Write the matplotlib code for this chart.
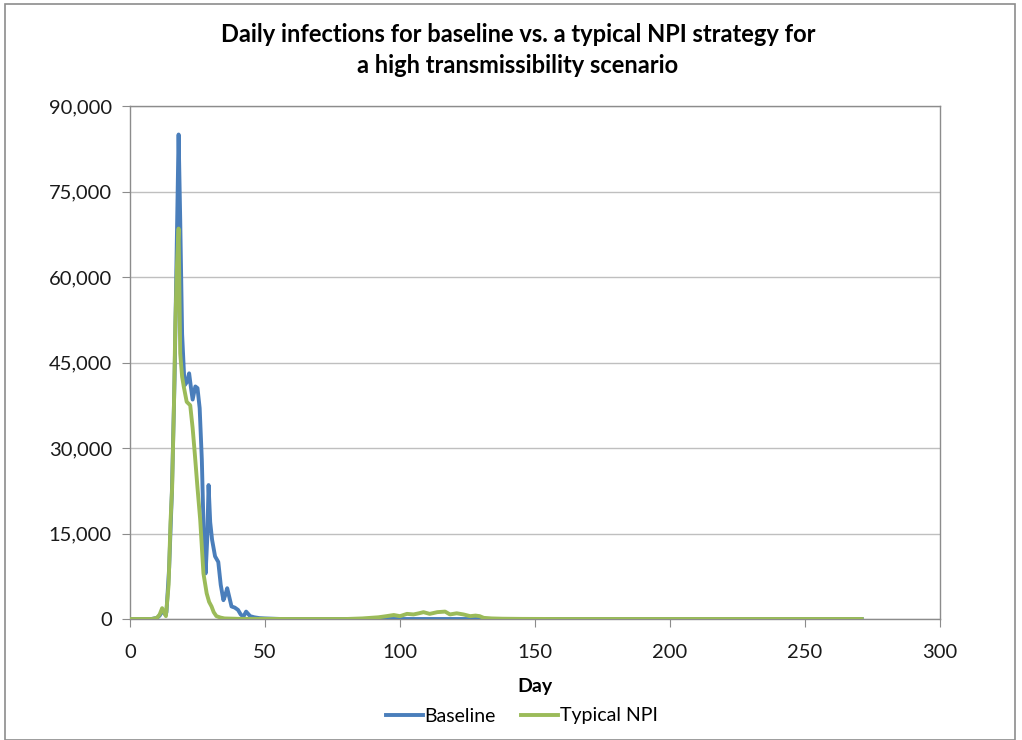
import matplotlib
matplotlib.use("Agg")
import matplotlib.pyplot as plt
from matplotlib.ticker import FuncFormatter, MultipleLocator
from matplotlib.patches import Rectangle

plt.rcParams['font.family'] = ['Lato', 'DejaVu Sans']

title = "Daily infections for baseline vs. a typical NPI strategy for\na high transmissibility scenario"
x_label = "Day"
series_names = ["Baseline", "Typical NPI"]

baseline_days = [0, 8, 10, 11, 12, 12.8, 13.5, 14.5, 15.5, 16.5, 17.3, 18, 18.6, 19.3, 20.2, 21, 21.9,
                 22.6, 23.2, 24.2, 25, 25.8, 26.6, 27.3, 28, 28.6, 29.1, 29.7, 30.4, 31.5, 32.7, 33.6,
                 34.6, 35.3, 36, 36.8, 37.6, 38.8, 40, 41, 42, 43, 44.5, 46, 48, 50, 53, 56, 60, 271]
baseline_vals = [0, 0, 200, 600, 1500, 900, 1200, 9000, 22000, 42000, 65000, 85000, 70000, 50000, 41000, 41500, 43100,
                 40500, 38500, 40800, 40500, 37000, 28000, 15000, 8000, 14000, 23500, 17000, 13900, 11000, 10000, 6000,
                 3300, 4200, 5400, 3800, 2200, 2000, 1600, 800, 400, 1300, 500, 300, 150, 100, 50, 0, 0, 0]

npi_days = [0, 8, 10, 11, 11.9, 12.6, 13.3, 14.3, 15, 15.6, 16.3, 16.8, 17.4, 18, 18.6, 19.3, 19.9, 21,
            22.3, 23.2, 24, 25, 26, 27.2, 28.4, 29.3, 30.2, 31, 32, 33.5, 35, 40, 60, 80, 86, 89,
            92, 95, 97.7, 100, 102.6, 105, 107, 108.7, 111, 113.8, 116.7, 118.5, 121, 123.5, 126,
            128, 129.5, 131, 134, 138, 145, 160, 200, 271]
npi_vals = [0, 0, 200, 800, 1900, 1200, 500, 6000, 17000, 23000, 38000, 52000, 62000, 68500, 46600, 42500, 40800, 38100,
            37500, 33500, 29000, 23000, 17400, 8000, 4500, 3000, 2200, 1200, 500, 250, 100, 30, 0, 0, 100, 200,
            300, 500, 700, 500, 900, 800, 1000, 1200, 900, 1200, 1300, 800, 1000, 800, 500,
            600, 500, 200, 100, 50, 20, 0, 0, 0]

W, H = 1022, 740
fig = plt.figure(figsize=(W / 100, H / 100), dpi=100)
fig.patch.set_facecolor('white')
# outer chart border
fig.patches.append(Rectangle((5 / W, 0), 1010 / W, 1 - 4 / H, transform=fig.transFigure,
                             fill=False, edgecolor='#8c8c8c', linewidth=1.2))

left, right, top, bottom = 130, 940, 106, 619
ax = fig.add_axes([left / W, 1 - bottom / H, (right - left) / W, (bottom - top) / H])

blue = '#4a7ebb'
green = '#9bbb59'
ax.plot(baseline_days, baseline_vals, color=blue, linewidth=2.8, label=series_names[0], zorder=3,
        solid_joinstyle='round')
ax.plot(npi_days, npi_vals, color=green, linewidth=2.8, label=series_names[1], zorder=4,
        solid_joinstyle='round')

ax.set_xlim(0, 300)
ax.set_ylim(0, 90000)
ax.xaxis.set_major_locator(MultipleLocator(50))
ax.yaxis.set_major_locator(MultipleLocator(15000))
ax.yaxis.set_major_formatter(FuncFormatter(lambda v, p: f"{int(v):,}"))
ax.grid(axis='y', color='#bfbfbf', linewidth=1.0)
ax.set_axisbelow(True)
for s in ax.spines.values():
    s.set_color('#8c8c8c')
    s.set_linewidth(1.0)
ax.tick_params(axis='both', direction='out', length=6, color='#8c8c8c', labelsize=14.5, labelcolor='#1a1a1a')
ax.tick_params(axis='x', pad=12)
ax.tick_params(axis='y', pad=7)

ax.set_xlabel(x_label, fontsize=14, fontweight='bold', labelpad=12)
fig.text(518 / W, 1 - 50 / H, title, ha='center', va='center',
         fontsize=17, fontweight='bold', linespacing=1.45)

leg = fig.legend(loc='center', bbox_to_anchor=(522 / W, 1 - 716 / H), ncol=2, frameon=False,
                 fontsize=14, handlelength=1.9, handletextpad=0.1, columnspacing=1.3)

fig.savefig('out.png', dpi=100, facecolor='white')
